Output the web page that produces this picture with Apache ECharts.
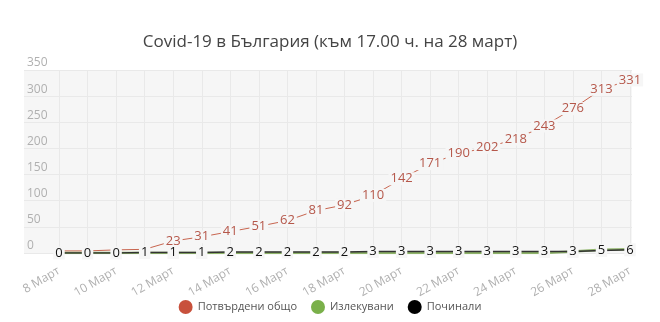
<!DOCTYPE html>
<html>
<head>
<meta charset="utf-8">
<script src="https://cdn.jsdelivr.net/npm/echarts@6/dist/echarts.min.js"></script>
<style>
  html, body { margin: 0; padding: 0; background: #fff; }
  #chart { width: 660px; height: 322px; }
</style>
</head>
<body>
<div id="chart"></div>
<script>
// Дни (март 2020)
const days = ['8 Март','9 Март','10 Март','11 Март','12 Март','13 Март','14 Март','15 Март',
  '16 Март','17 Март','18 Март','19 Март','20 Март','21 Март','22 Март','23 Март','24 Март',
  '25 Март','26 Март','27 Март','28 Март'];
// Потвърдени случаи общо
const confirmed = [4, 4, 6, 7, 23, 31, 41, 51, 62, 81, 92, 110, 142, 171, 190, 202, 218, 243, 276, 313, 331];
// Излекувани
const recovered = [0, 0, 0, 0, 0, 0, 0, 0, 0, 0, 0, 0, 0, 0, 0, 0, 0, 0, 3, 6, 7];
// Починали
const deaths = [0, 0, 0, 1, 1, 1, 2, 2, 2, 2, 2, 3, 3, 3, 3, 3, 3, 3, 3, 5, 6];
// Деления на оста Y
const yTicks = [0, 50, 100, 150, 200, 250, 300, 350];
// Етикети на потвърдените, които се скриват под етикетите на починалите
const confirmedHiddenLabels = [0, 1, 2, 3];

const FONT = '"Open Sans", "Noto Sans", sans-serif';
const PLOT_BG = '#f6f6f6';

const chart = echarts.init(document.getElementById('chart'), null, { renderer: 'canvas' });

const labelBase = {
  show: true,
  position: 'inside',
  fontFamily: FONT,
  fontSize: 13,
  backgroundColor: PLOT_BG,
  padding: [0, 2]
};

chart.setOption({
  animation: false,
  title: {
    text: 'Covid-19 в България (към 17.00 ч. на 28 март)',
    left: 'center',
    top: 29,
    textStyle: { fontFamily: FONT, fontSize: 17, fontWeight: 'normal', color: '#444' }
  },
  legend: {
    bottom: 3,
    left: 'center',
    icon: 'circle',
    itemWidth: 14,
    itemHeight: 14,
    itemGap: 14,
    textStyle: { fontFamily: FONT, fontSize: 11, color: '#555' },
    data: ['Потвърдени общо', 'Излекувани', 'Починали']
  },
  grid: [
    // фон и хоризонтални линии
    { left: 24, right: 28, top: 70, bottom: 69, show: true, backgroundColor: PLOT_BG, borderWidth: 0 },
    // данни
    { left: 59, right: 30, top: 70, bottom: 69 }
  ],
  xAxis: [
    {
      gridIndex: 0, type: 'category', data: [''], show: false
    },
    {
      gridIndex: 1,
      type: 'category',
      boundaryGap: false,
      data: days,
      axisLine: { show: false },
      axisTick: { show: false },
      axisLabel: {
        interval: 1,
        rotate: 30,
        margin: 17,
        color: '#b0b0b0',
        fontFamily: FONT,
        fontSize: 12
      },
      splitLine: { show: true, interval: 0, lineStyle: { color: '#e9e9e9', width: 1 } }
    }
  ],
  yAxis: [
    {
      gridIndex: 0,
      type: 'value',
      min: yTicks[0],
      max: yTicks[yTicks.length - 1],
      interval: yTicks[1] - yTicks[0],
      axisLine: { show: false },
      axisTick: { show: false },
      axisLabel: {
        inside: true,
        margin: 3,
        verticalAlign: 'bottom',
        padding: [0, 0, 1, 0],
        color: '#b0b0b0',
        fontFamily: FONT,
        fontSize: 12
      },
      splitLine: { show: true, lineStyle: { color: '#e9e9e9', width: 1 } }
    },
    {
      gridIndex: 1,
      type: 'value',
      min: yTicks[0],
      max: yTicks[yTicks.length - 1],
      interval: yTicks[1] - yTicks[0],
      show: false,
      splitLine: { show: false }
    }
  ],
  series: [
    {
      name: 'Потвърдени общо',
      type: 'line',
      xAxisIndex: 1,
      yAxisIndex: 1,
      symbol: 'circle',
      symbolSize: 0,
      showSymbol: true,
      color: '#c8513c',
      lineStyle: { width: 1, color: '#c8654f' },
      label: Object.assign({}, labelBase, { color: '#b5574a' }),
      data: confirmed.map((v, i) => confirmedHiddenLabels.includes(i)
        ? { value: v, label: { show: false } }
        : v),
      z: 2
    },
    {
      name: 'Излекувани',
      type: 'line',
      xAxisIndex: 1,
      yAxisIndex: 1,
      symbol: 'circle',
      symbolSize: 0,
      showSymbol: true,
      color: '#7ab04a',
      lineStyle: { width: 2.5, color: '#8fb46a' },
      label: { show: false },
      data: recovered,
      z: 3
    },
    {
      name: 'Починали',
      type: 'line',
      xAxisIndex: 1,
      yAxisIndex: 1,
      symbol: 'circle',
      symbolSize: 0,
      showSymbol: true,
      color: '#000',
      lineStyle: { width: 1.5, color: '#333' },
      label: Object.assign({}, labelBase, { color: '#111' }),
      data: deaths,
      z: 4
    }
  ]
});
</script>
</body>
</html>
